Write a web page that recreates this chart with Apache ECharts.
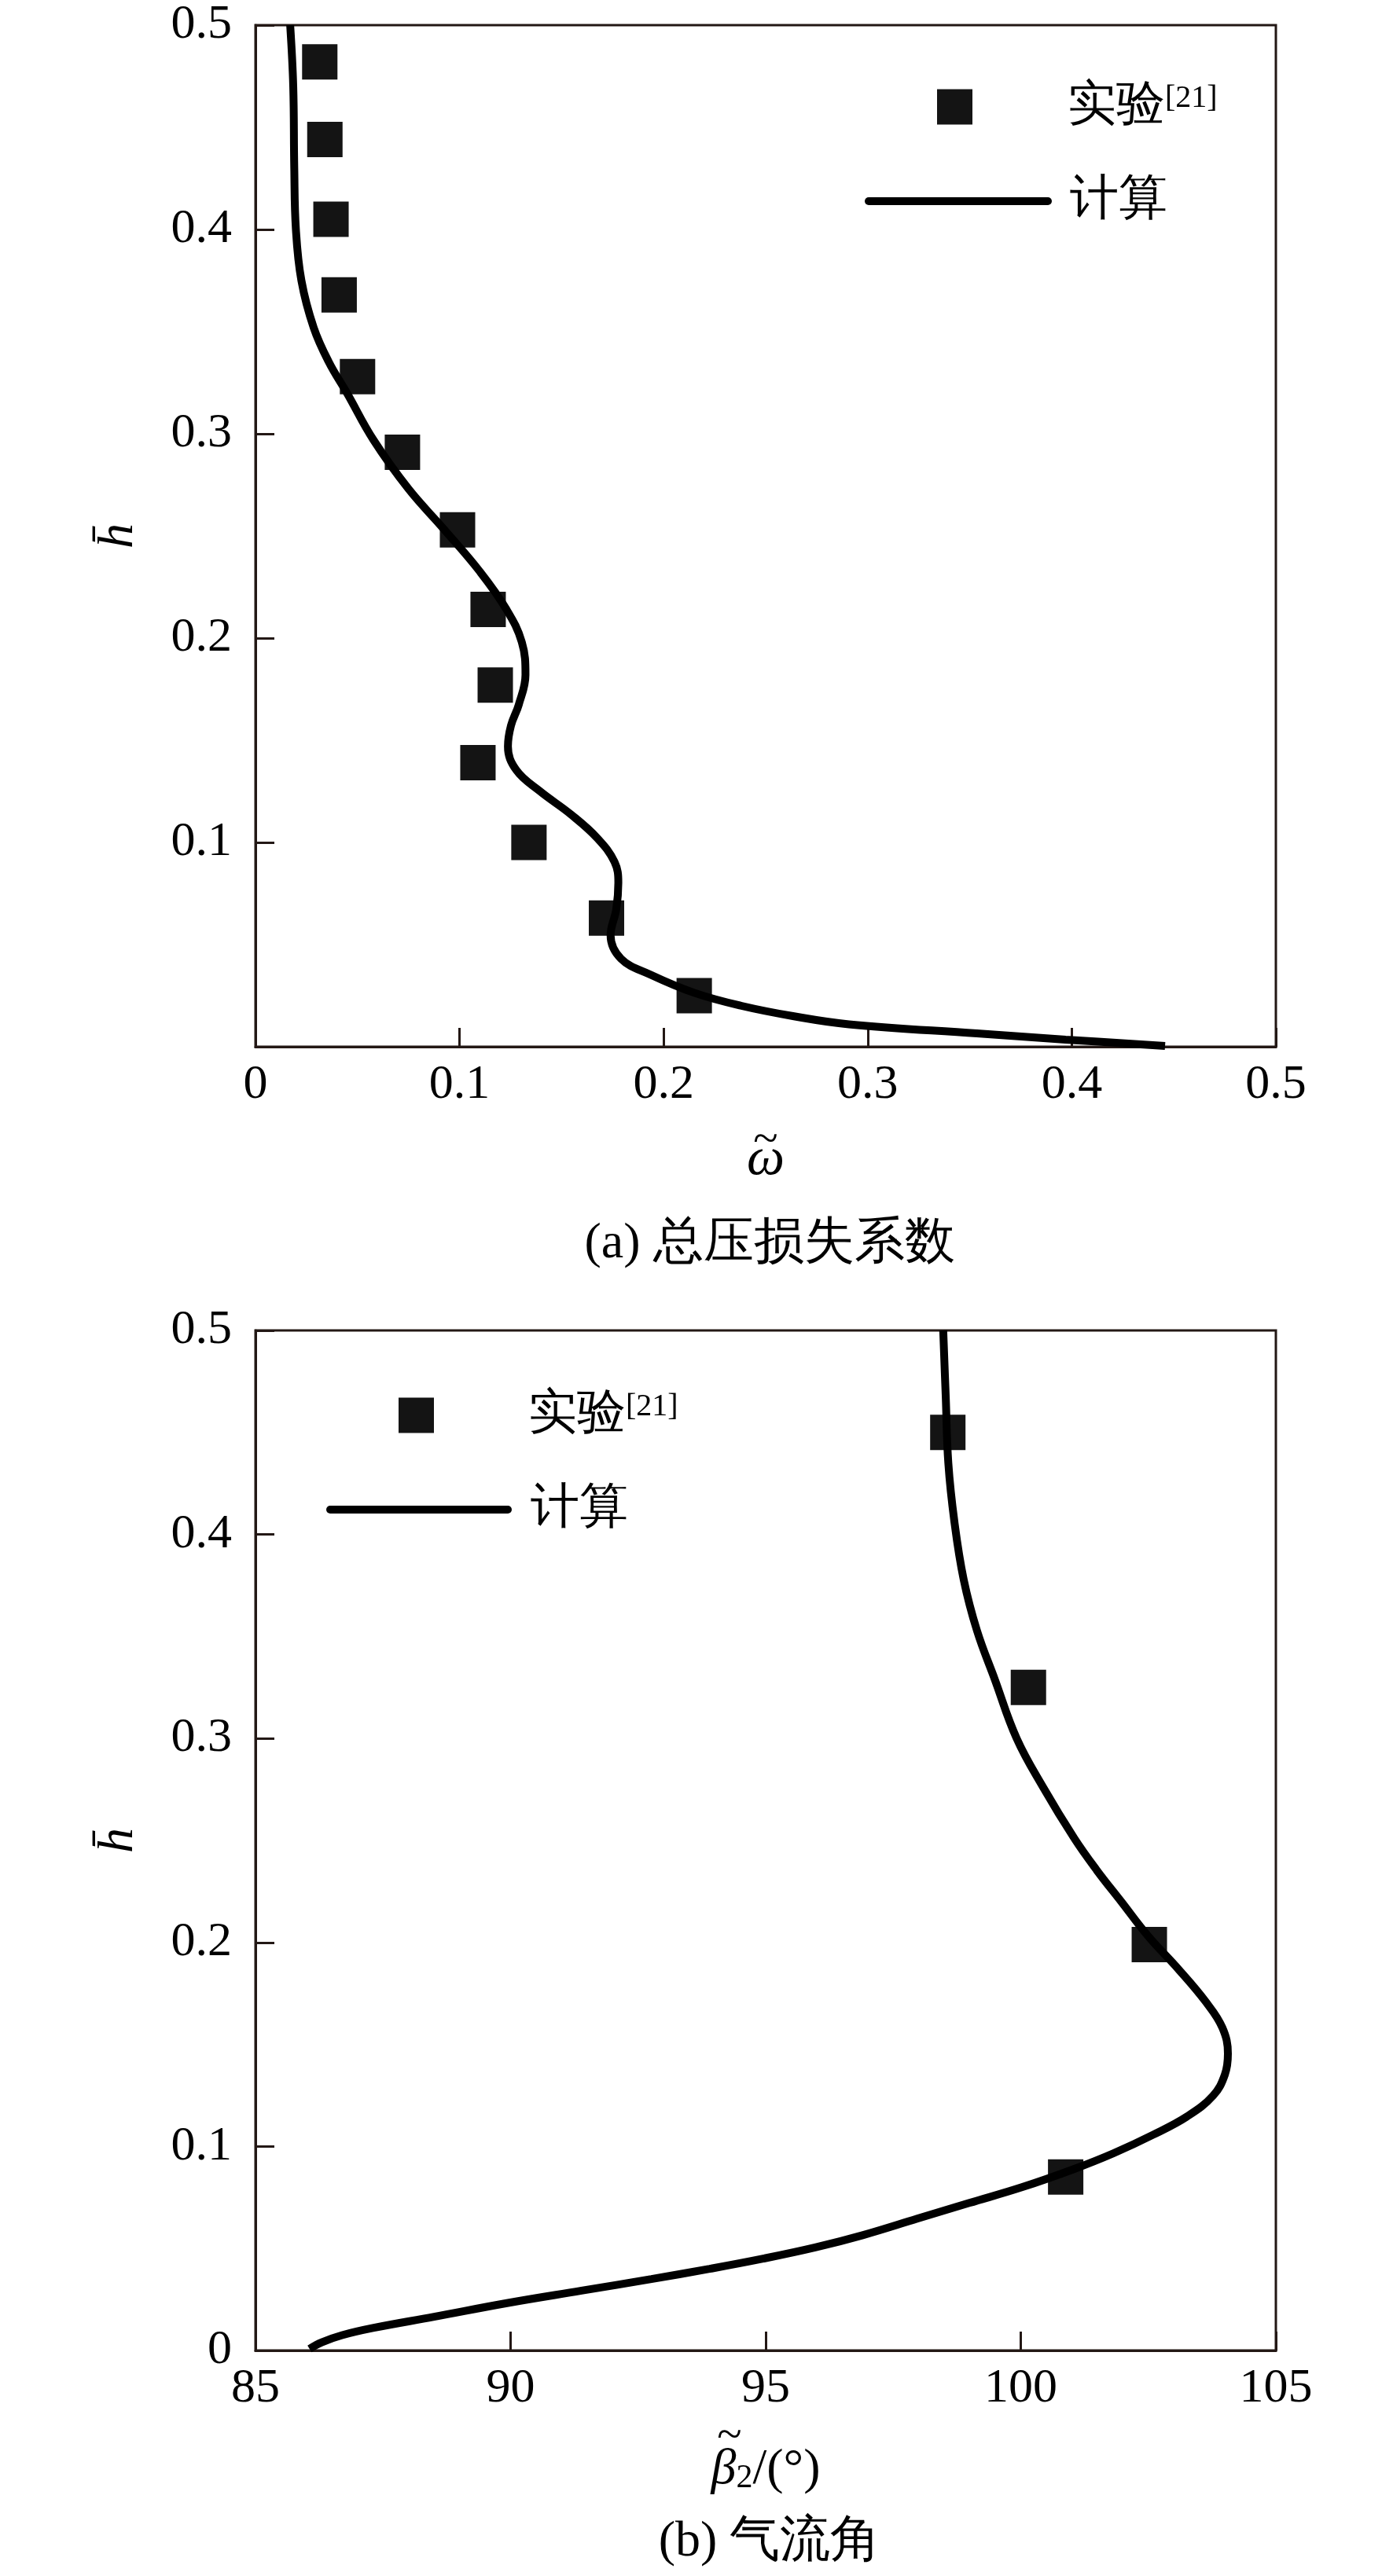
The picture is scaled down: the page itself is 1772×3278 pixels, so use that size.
<!DOCTYPE html>
<html lang="zh">
<head>
    <meta charset="UTF-8">
    <title>总压损失系数 / 气流角</title>
    <script src="https://cdn.jsdelivr.net/npm/echarts@6/dist/echarts.min.js"></script>
    <style>
        body { margin: 0; background: #fff; }
    </style>
</head>
<body>
    <div id="main" style="width: 1772px; height: 3278px"></div>
    <script>
        // (a) 总压损失系数: 实验点 [omega, h]
        var lossExp = [
            [0.0315, 0.482], [0.034, 0.444], [0.037, 0.405], [0.041, 0.368],
            [0.050, 0.328], [0.072, 0.291], [0.099, 0.253], [0.114, 0.214],
            [0.1175, 0.177], [0.109, 0.139], [0.134, 0.100], [0.172, 0.063],
            [0.215, 0.025]
        ];
        // (a) 计算曲线
        var lossCalc = [
            [0.017, 0.5], [0.0185, 0.47], [0.019, 0.43], [0.0198, 0.40],
            [0.0225, 0.375], [0.0285, 0.352], [0.036, 0.335], [0.0448, 0.32],
            [0.0578, 0.297], [0.075, 0.273], [0.0926, 0.253], [0.11, 0.2325],
            [0.123, 0.214], [0.1305, 0.198], [0.1323, 0.182], [0.129, 0.1674],
            [0.1252, 0.1572], [0.1237, 0.147], [0.1278, 0.1354], [0.1393, 0.1251],
            [0.1547, 0.1136], [0.1676, 0.102], [0.1759, 0.0905], [0.1778, 0.0803],
            [0.1768, 0.0674], [0.174, 0.0546], [0.1791, 0.0431], [0.1933, 0.0354],
            [0.215, 0.0264], [0.2382, 0.02], [0.2639, 0.0149], [0.2908, 0.011],
            [0.3535, 0.0065], [0.397, 0.0035], [0.4457, 0.0004]
        ];
        // (b) 气流角: 实验点 [beta, h]
        var angleExp = [
            [98.57, 0.450], [100.15, 0.325], [102.52, 0.199], [100.88, 0.085]
        ];
        // (b) 计算曲线
        var angleCalc = [
            [98.48, 0.5], [98.53, 0.467], [98.58, 0.435], [98.7, 0.406],
            [98.88, 0.378], [99.14, 0.353], [99.49, 0.329], [99.92, 0.300],
            [100.44, 0.276], [101.05, 0.251], [101.49, 0.2354], [101.97, 0.220],
            [102.49, 0.2033], [103.10, 0.1866], [103.62, 0.1711], [103.95, 0.1583],
            [104.06, 0.1455], [104.0, 0.1352], [103.77, 0.1249], [103.26, 0.1147],
            [102.59, 0.1057], [101.82, 0.0967], [101.05, 0.089], [100.02, 0.080],
            [98.99, 0.0723], [97.97, 0.0646], [96.9, 0.0565], [95.97, 0.0505],
            [94.95, 0.045], [93.9, 0.040], [92.76, 0.035], [91.39, 0.0293],
            [89.95, 0.0233], [88.5, 0.0165], [87.3, 0.011], [86.7, 0.0075],
            [86.3, 0.004], [86.06, 0.0008]
        ];

        var serif = 'Liberation Serif';
        var axisColor = '#231815';
        var fs = 62;

        // 坐标轴公共样式
        function axisBase(min, max, interval) {
            return {
                type: 'value',
                min: min,
                max: max,
                interval: interval,
                axisLine: { show: true, lineStyle: { color: axisColor, width: 3 } },
                axisTick: { show: true, inside: true, length: 24, lineStyle: { color: axisColor, width: 3 } },
                splitLine: { show: false },
                axisLabel: { color: '#000', fontFamily: serif, fontSize: fs },
                nameTextStyle: { color: '#000', fontFamily: serif, fontSize: 64 }
            };
        }

        var legendText = {
            color: '#000',
            fontFamily: serif,
            fontSize: 62,
            rich: {
                sup: { fontFamily: serif, fontSize: 40, color: '#000', verticalAlign: 'top' }
            }
        };
        function legendFmt(name) {
            return name === '实验' ? '实验{sup|[21]}' : name;
        }

        var xA = axisBase(0, 0.5, 0.1);
        xA.gridIndex = 0;
        xA.name = '{t|~}\n{i|ω}';
        xA.nameLocation = 'middle';
        xA.nameGap = 112;
        xA.nameTextStyle.rich = {
            t: { fontFamily: serif, fontSize: 58, lineHeight: 16, color: '#000' },
            i: { fontFamily: serif, fontSize: 68, fontStyle: 'italic', lineHeight: 32, color: '#000' }
        };
        xA.axisLabel.margin = 18;

        var yA = axisBase(0, 0.5, 0.1);
        yA.gridIndex = 0;
        yA.name = 'h\u0304';
        yA.nameLocation = 'middle';
        yA.nameGap = 142;
        yA.nameTextStyle.fontStyle = 'italic';
        yA.axisLabel.margin = 30;
        yA.axisLabel.showMinLabel = false;

        var xB = axisBase(85, 105, 5);
        xB.gridIndex = 1;
        xB.name = '{t|~}\n{i|β}{sub|2}{n|/(°)}';
        xB.nameLocation = 'middle';
        xB.nameGap = 92;
        xB.nameTextStyle.rich = {
            t: { fontFamily: serif, fontSize: 58, lineHeight: 20, color: '#000', padding: [0, 92, 0, 0] },
            i: { fontFamily: serif, fontSize: 64, fontStyle: 'italic', lineHeight: 64, color: '#000' },
            sub: { fontFamily: serif, fontSize: 42, lineHeight: 64, color: '#000', verticalAlign: 'bottom' },
            n: { fontFamily: serif, fontSize: 64, lineHeight: 64, color: '#000' }
        };
        xB.axisLabel.margin = 18;

        var yB = axisBase(0, 0.5, 0.1);
        yB.gridIndex = 1;
        yB.name = 'h\u0304';
        yB.nameLocation = 'middle';
        yB.nameGap = 142;
        yB.nameTextStyle.fontStyle = 'italic';
        yB.axisLabel.margin = 30;

        var chart = echarts.init(document.getElementById('main'));
        chart.setOption({
            backgroundColor: '#fff',
            animation: false,
            title: [
                { text: '(a) 总压损失系数', left: 974, top: 1546, textAlign: 'center',
                  textStyle: { fontFamily: serif, fontSize: 64, fontWeight: 'normal', color: '#000' } },
                { text: '(b) 气流角', left: 974, top: 3198, textAlign: 'center',
                  textStyle: { fontFamily: serif, fontSize: 64, fontWeight: 'normal', color: '#000' } }
            ],
            grid: [
                { left: 325, top: 32, width: 1298, height: 1300, show: true,
                  borderColor: axisColor, borderWidth: 3 },
                { left: 325, top: 1693, width: 1298, height: 1298, show: true,
                  borderColor: axisColor, borderWidth: 3 }
            ],
            xAxis: [xA, xB],
            yAxis: [yA, yB],
            legend: [
                { data: ['实验'], left: 1187, top: 100, itemWidth: 45, itemHeight: 45,
                  formatter: legendFmt, selectedMode: false,
                  textStyle: Object.assign({ padding: [0, 0, 0, 116] }, legendText) },
                { data: ['计算'], left: 1095, top: 220, itemWidth: 228, itemHeight: 10,
                  selectedMode: false, itemStyle: { opacity: 0 },
                  lineStyle: { width: 10, cap: 'round' },
                  textStyle: Object.assign({ padding: [0, 0, 0, 23] }, legendText) },
                { data: ['实验'], left: 502, top: 1765, itemWidth: 45, itemHeight: 45,
                  formatter: legendFmt, selectedMode: false,
                  textStyle: Object.assign({ padding: [0, 0, 0, 115] }, legendText) },
                { data: ['计算'], left: 410, top: 1885, itemWidth: 226, itemHeight: 10,
                  selectedMode: false, itemStyle: { opacity: 0 },
                  lineStyle: { width: 10, cap: 'round' },
                  textStyle: Object.assign({ padding: [0, 0, 0, 24] }, legendText) }
            ],
            series: [
                { name: '实验', type: 'scatter', xAxisIndex: 0, yAxisIndex: 0,
                  symbol: 'rect', symbolSize: 45, itemStyle: { color: '#141414', opacity: 1 },
                  data: lossExp, z: 2 },
                { name: '计算', type: 'line', xAxisIndex: 0, yAxisIndex: 0,
                  symbol: 'none', smooth: 0.4,
                  lineStyle: { color: '#000', width: 10 }, itemStyle: { color: '#000' },
                  data: lossCalc, z: 3 },
                { name: '实验', type: 'scatter', xAxisIndex: 1, yAxisIndex: 1,
                  symbol: 'rect', symbolSize: 45, itemStyle: { color: '#141414', opacity: 1 },
                  data: angleExp, z: 2 },
                { name: '计算', type: 'line', xAxisIndex: 1, yAxisIndex: 1,
                  symbol: 'none', smooth: 0.4,
                  lineStyle: { color: '#000', width: 10 }, itemStyle: { color: '#000' },
                  data: angleCalc, z: 3 }
            ]
        });
    </script>
</body>
</html>
